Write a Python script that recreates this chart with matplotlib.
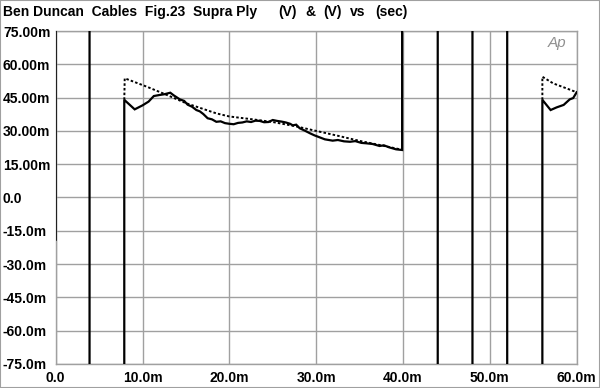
#!/usr/bin/env python3
"""Ben Duncan Cables Fig.23 - Supra Ply, square wave response"""

import matplotlib
matplotlib.use("Agg")
import matplotlib.pyplot as plt
from matplotlib.patches import Rectangle

plt.rcParams['font.family'] = ['Liberation Sans', 'DejaVu Sans']

nan = float('nan')

# solid trace (sec, V); +/-90m means off-scale (clipped by the axes)
solid_t = [0.0, 0.0, 3.9, 3.9, 7.9, 7.9,
           9.1, 10.0, 10.7, 11.3, 12.0, 12.5, 12.9, 13.2, 13.6, 14.3, 14.8,
           15.2, 15.7, 16.2, 16.6, 17.0, 17.5, 18.0, 18.5,
           19.0, 19.5, 20.0, 20.5, 21.0, 21.5, 22.0, 22.5, 23.0, 23.5, 24.0,
           24.5, 25.0, 25.5, 26.0, 26.5, 27.0, 27.3, 27.7, 28.1, 28.7, 29.3,
           29.8, 30.4, 31.0, 31.9, 32.5, 33.2, 33.9, 34.5, 35.2, 35.8, 36.5,
           37.3, 37.8, 38.4, 39.2, 39.9,
           39.9, 44.0, 44.0, 48.0, 48.0, 52.0, 52.0, 56.05, 56.05,
           57.0, 57.7, 58.5, 59.2, 59.6, 60.0]
solid_v = [-19.0, 90.0, 90.0, -90.0, -90.0, 44.0,
           39.7, 41.5, 43.2, 45.7, 46.2, 46.5, 46.9, 47.2, 46.0, 44.2, 43.5,
           41.8, 40.9, 39.4, 38.8, 37.6, 35.7, 35.2, 34.1,
           34.3, 33.5, 33.2, 33.0, 33.6, 33.8, 34.3, 34.0, 34.6, 34.5, 33.9,
           34.0, 34.9, 34.5, 34.2, 33.8, 33.2, 32.5, 32.8, 31.2, 30.1, 28.9,
           28.0, 27.1, 26.2, 25.6, 25.9, 25.3, 25.1, 25.4, 24.6, 24.4, 24.1,
           23.2, 23.5, 22.6, 21.7, 21.4,
           90.0, 90.0, -90.0, -90.0, 90.0, 90.0, -90.0, -90.0, 44.0,
           39.4, 40.6, 41.7, 44.2, 44.8, 47.4]

# dotted trace (nan breaks the line where it is off-scale / hidden)
dot_t = [7.9, 7.95, 10.5, 12.8, 15.0, 18.5, 20.0, 22.5, 25.0, 27.5, 30.0,
         32.5, 35.0, 37.5, 39.9, nan,
         56.05, 56.05, 57.3, 58.8, 60.0]
dot_v = [44.0, 53.7, 49.9, 46.2, 42.5, 37.9, 36.5, 35.3, 34.0, 32.2, 30.0,
         27.8, 25.5, 23.5, 21.5, nan,
         44.0, 54.4, 51.4, 49.2, 47.4]

x_ticks = [0, 10, 20, 30, 40, 50, 60]
x_labels = ["0.0", "10.0m", "20.0m", "30.0m", "40.0m", "50.0m", "60.0m"]
y_ticks = [75, 60, 45, 30, 15, 0, -15, -30, -45, -60, -75]
y_labels = ["75.00m", "60.00m", "45.00m", "30.00m", "15.00m", "0.0",
            "-15.0m", "-30.0m", "-45.0m", "-60.0m", "-75.0m"]

fig = plt.figure(figsize=(6.0, 3.88), dpi=100)
fig.patch.set_facecolor('white')
ax = fig.add_axes([0.0928, 0.0619, 0.8683, 0.8582])

grid_col = '#a0a0a0'
fs = 10
ax.plot(dot_t, dot_v, color='black', linewidth=1.4, dashes=(1.3, 1.1), zorder=3)
ax.plot(solid_t, solid_v, color='black', linewidth=1.6,
        solid_joinstyle='miter', zorder=3)

ax.set_xlim(0, 60)
ax.set_ylim(-75, 75)
ax.set_xticks(x_ticks)
ax.set_xticklabels(x_labels)
ax.set_yticks(y_ticks)
ax.set_yticklabels(y_labels, ha='left')
ax.tick_params(length=0, labelsize=fs, colors='black')
ax.tick_params(axis='y', pad=38)
ax.tick_params(axis='x', pad=5)
for lab in ax.get_xticklabels() + ax.get_yticklabels():
    lab.set_fontweight('bold')
ax.grid(True, color=grid_col, linewidth=1.0)
ax.set_axisbelow(True)
for sp in ax.spines.values():
    sp.set_color(grid_col)
    sp.set_linewidth(1.0)

fig.text(0.005, 0.969, "Ben Duncan  Cables  Fig.23  Supra Ply", fontsize=fs,
         fontweight='bold', va='center', ha='left')
for xpos, txt in [(278, "(V)"), (305, "&"), (323, "(V)"), (350, "vs"), (375, "(sec)")]:
    fig.text(xpos / 600, 0.969, txt, fontsize=fs, fontweight='bold',
             va='center', ha='left')

fig.text(0.913, 0.89, "Ap", fontsize=11, style='italic', color='#909090',
         va='center', ha='left')

fig.patches.append(Rectangle((0, 0), 1, 1, transform=fig.transFigure,
                             fill=False, edgecolor='#a0a0a0', linewidth=1.5))

fig.savefig('out.png', dpi=100, facecolor='white')
plt.close(fig)
